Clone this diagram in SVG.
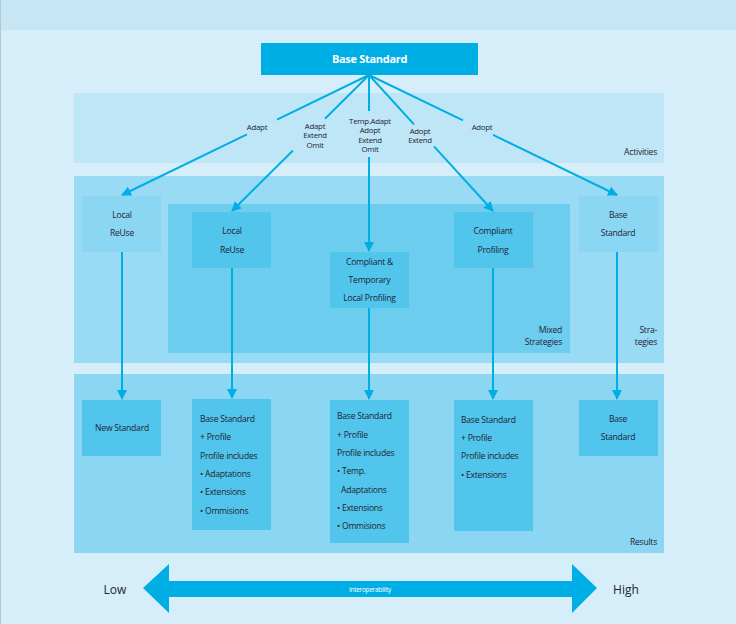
<svg xmlns="http://www.w3.org/2000/svg" width="736" height="624" viewBox="0 0 736 624">
<defs>
<style>
text{font-family:"Open Sans","Noto Sans","Liberation Sans",sans-serif;fill:#1d2433;font-size:8.6px;letter-spacing:-0.25px}
.c{text-anchor:middle}
.r{text-anchor:end}
.sm{font-size:7.8px}
.ln{stroke:#00aee6;stroke-width:2;fill:none}
.box{fill:#52c5ec}
.lbox{fill:#8bd6f2}
</style>
<marker id="ah" markerWidth="10" markerHeight="10" refX="9" refY="5" orient="auto" markerUnits="userSpaceOnUse">
<path d="M0,0 L10,5 L0,10 Z" fill="#00aee6"/>
</marker>
</defs>
<rect x="0" y="0" width="736" height="624" fill="#d6eef9"/>
<rect x="0" y="0" width="736" height="30" fill="#c6e6f6"/>
<rect x="0" y="0" width="1" height="624" fill="#b9c4cc"/>

<g id="activities">
<rect x="74" y="93" width="590" height="70" fill="#bfe6f7"/>
<text class="r" x="657" y="155">Activities</text>
</g>
<g id="strategies">
<rect x="74" y="176" width="590" height="187" fill="#99daf4"/>
<text class="r" x="657" y="333">Stra-</text>
<text class="r" x="657" y="345">tegies</text>
</g>
<g id="mixed">
<rect x="168" y="204" width="402" height="149" fill="#6dcdef"/>
<text class="r" x="562" y="333">Mixed</text>
<text class="r" x="562" y="345">Strategies</text>
</g>
<g id="results">
<rect x="74" y="374" width="590" height="179" fill="#8bd7f3"/>
<text class="r" x="657" y="545">Results</text>
</g>

<g id="connectors">
<line class="ln" x1="369" y1="75" x2="277" y2="119.7"/>
<line class="ln" x1="247" y1="134.3" x2="122" y2="195" marker-end="url(#ah)"/>
<line class="ln" x1="369" y1="75" x2="325" y2="118.7"/>
<line class="ln" x1="293" y1="150.5" x2="232" y2="211" marker-end="url(#ah)"/>
<line class="ln" x1="369" y1="75" x2="369" y2="111"/>
<line class="ln" x1="369" y1="157" x2="369" y2="251" marker-end="url(#ah)"/>
<line class="ln" x1="369" y1="75" x2="414" y2="124.4"/>
<line class="ln" x1="434" y1="146.3" x2="493" y2="211" marker-end="url(#ah)"/>
<line class="ln" x1="369" y1="75" x2="463" y2="120.3"/>
<line class="ln" x1="493" y1="134.8" x2="617" y2="195" marker-end="url(#ah)"/>
<line class="ln" x1="122" y1="252" x2="122" y2="399" marker-end="url(#ah)"/>
<line class="ln" x1="232" y1="268" x2="232" y2="398" marker-end="url(#ah)"/>
<line class="ln" x1="369" y1="308" x2="369" y2="399" marker-end="url(#ah)"/>
<line class="ln" x1="493" y1="268" x2="493" y2="399" marker-end="url(#ah)"/>
<line class="ln" x1="617" y1="252" x2="617" y2="399" marker-end="url(#ah)"/>
</g>

<g id="activity-labels">
<text class="c sm" x="257" y="130">Adapt</text>
<text class="c sm" x="315" y="129">Adapt</text>
<text class="c sm" x="315" y="138">Extend</text>
<text class="c sm" x="315" y="147.5">Omit</text>
<text class="c sm" x="370" y="124">Temp.Adapt</text>
<text class="c sm" x="370" y="133">Adopt</text>
<text class="c sm" x="370" y="142.5">Extend</text>
<text class="c sm" x="370" y="152">Omit</text>
<text class="c sm" x="420" y="134">Adopt</text>
<text class="c sm" x="420" y="143">Extend</text>
<text class="c sm" x="482" y="130">Adopt</text>
</g>

<g id="base-standard-top">
<rect x="261" y="43" width="217" height="32" fill="#00aee6"/>
<text class="c" x="369.5" y="63" style="fill:#fff;font-weight:bold;font-size:11px;letter-spacing:-0.3px">Base Standard</text>
</g>

<g id="local-reuse-1">
<rect class="lbox" x="82" y="196" width="79" height="56"/>
<text class="c" x="122" y="218">Local</text>
<text class="c" x="122" y="236">ReUse</text>
</g>
<g id="local-reuse-2">
<rect class="box" x="192" y="212" width="79" height="56"/>
<text class="c" x="232" y="234">Local</text>
<text class="c" x="232" y="253">ReUse</text>
</g>
<g id="compliant-temporary">
<rect class="box" x="330" y="252" width="79" height="56"/>
<text class="c" x="369.5" y="265">Compliant &amp;</text>
<text class="c" x="369.5" y="283">Temporary</text>
<text class="c" x="369.5" y="301">Local Profiling</text>
</g>
<g id="compliant-profiling">
<rect class="box" x="454" y="212" width="79" height="56"/>
<text class="c" x="493" y="234">Compliant</text>
<text class="c" x="493" y="253">Profiling</text>
</g>
<g id="base-standard-strategy">
<rect class="lbox" x="579" y="196" width="79" height="56"/>
<text class="c" x="618" y="218">Base</text>
<text class="c" x="618" y="236">Standard</text>
</g>

<g id="new-standard">
<rect class="box" x="82" y="400" width="79" height="56"/>
<text class="c" x="122" y="431">New Standard</text>
</g>
<g id="result-local-reuse">
<rect class="box" x="192" y="399" width="79" height="131"/>
<text x="200" y="422">Base Standard</text>
<text x="200" y="440">+ Profile</text>
<text x="200" y="459">Profile includes</text>
<text x="200" y="477">• Adaptations</text>
<text x="200" y="495">• Extensions</text>
<text x="200" y="514">• Ommisions</text>
</g>
<g id="result-compliant-temporary">
<rect class="box" x="330" y="400" width="79" height="143"/>
<text x="337" y="419">Base Standard</text>
<text x="337" y="438">+ Profile</text>
<text x="337" y="456">Profile includes</text>
<text x="337" y="474">• Temp.</text>
<text x="341" y="493">Adaptations</text>
<text x="337" y="511">• Extensions</text>
<text x="337" y="529">• Ommisions</text>
</g>
<g id="result-compliant-profiling">
<rect class="box" x="454" y="400" width="79" height="131"/>
<text x="461" y="423">Base Standard</text>
<text x="461" y="441">+ Profile</text>
<text x="461" y="459">Profile includes</text>
<text x="461" y="478">• Extensions</text>
</g>
<g id="result-base-standard">
<rect class="box" x="579" y="400" width="79" height="56"/>
<text class="c" x="618" y="422">Base</text>
<text class="c" x="618" y="440">Standard</text>
</g>

<g id="interoperability">
<path d="M143,588 L169,564 L169,581 L572,581 L572,564 L597,588 L572,613 L572,597 L169,597 L169,613 Z" fill="#00aee6"/>
<text class="c" x="370" y="591.5" style="fill:#fff;font-size:6.5px;letter-spacing:-0.3px">Interoperability</text>
<text class="c" x="115" y="594" style="font-size:12px;letter-spacing:0">Low</text>
<text class="c" x="626" y="594" style="font-size:12px;letter-spacing:0">High</text>
</g>
</svg>
